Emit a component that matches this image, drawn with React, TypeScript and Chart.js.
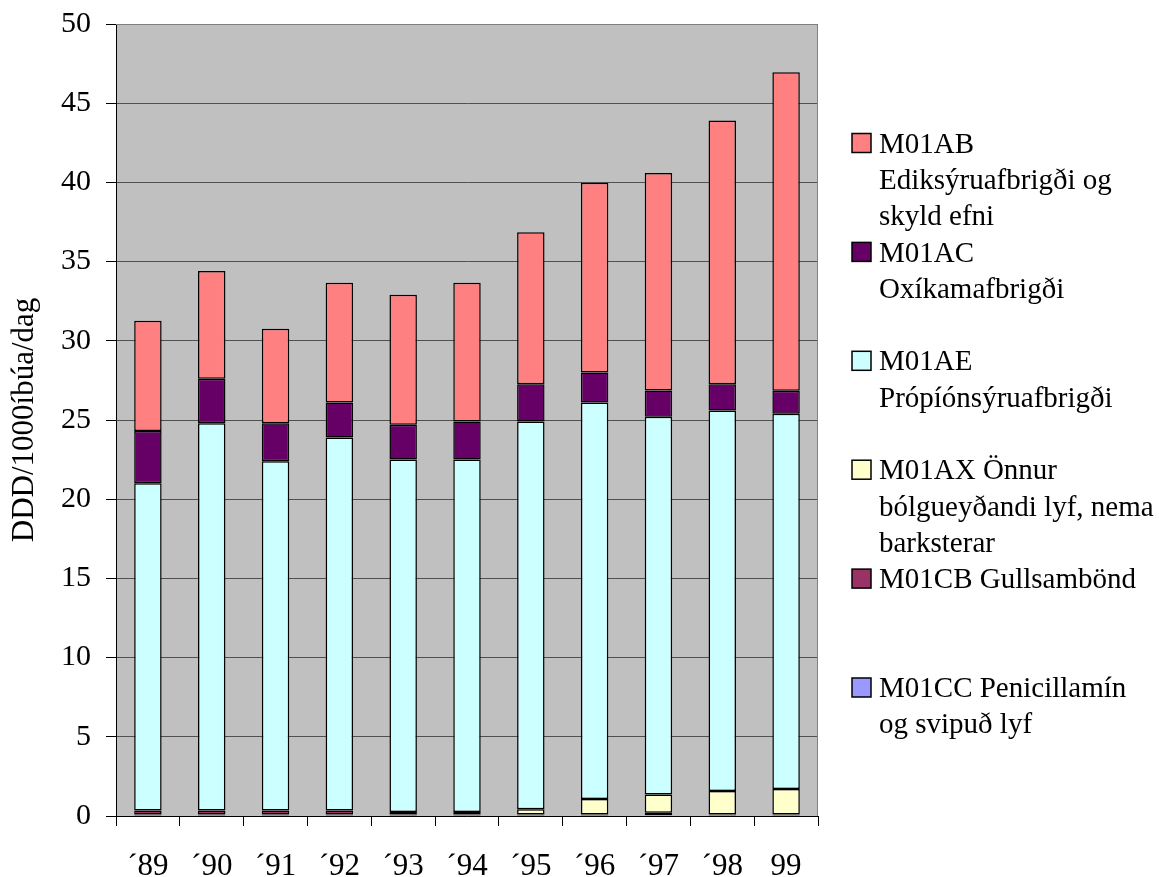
import { useEffect, useRef } from "react";
import { Chart, registerables } from "chart.js";

Chart.register(...registerables);

// ---- data ----
const years = ["´89", "´90", "´91", "´92", "´93", "´94", "´95", "´96", "´97", "´98", "99"];
const yTicks = [0, 5, 10, 15, 20, 25, 30, 35, 40, 45, 50];
const yTitle = "DDD/1000íbúa/dag";

// series listed bottom of the stack first
const seriesNames = [
  "M01CC Penicillamín\nog svipuð lyf",
  "M01CB Gullsambönd",
  "M01AX Önnur\nbólgueyðandi lyf, nema\nbarksterar",
  "M01AE\nPrópíónsýruafbrigði",
  "M01AC\nOxíkamafbrigði",
  "M01AB\nEdiksýruafbrigði og\nskyld efni",
];
const M01CC = [0.1, 0.1, 0.1, 0.1, 0.1, 0.1, 0.1, 0.1, 0.05, 0.1, 0.1];
const M01CB = [0.25, 0.25, 0.25, 0.25, 0.15, 0.15, 0, 0, 0.15, 0, 0];
const M01AX = [0, 0, 0, 0, 0, 0, 0.32, 0.97, 1.15, 1.48, 1.6];
const M01AE = [20.65, 24.45, 22.05, 23.55, 22.25, 22.25, 24.48, 25.03, 23.85, 24.02, 23.7];
const M01AC = [3.3, 2.8, 2.4, 2.2, 2.2, 2.4, 2.35, 1.9, 1.67, 1.65, 1.45];
const M01AB = [6.97, 6.8, 5.96, 7.57, 8.2, 8.77, 9.6, 11.98, 13.73, 16.65, 20.1];
const seriesValues = [M01CC, M01CB, M01AX, M01AE, M01AC, M01AB];

// ---- styles ----
const seriesColors = ["#9999FF", "#993366", "#FFFFCC", "#CCFFFF", "#660066", "#FF8080"];
const FONT = "'Liberation Serif', 'Times New Roman', Times, serif";

const plotBackground = {
  id: "plotBackground",
  beforeDraw(chart: any) {
    const { ctx, chartArea } = chart;
    ctx.save();
    ctx.fillStyle = "#FFFFFF";
    ctx.fillRect(0, 0, chart.width, chart.height);
    ctx.fillStyle = "#C0C0C0";
    ctx.fillRect(chartArea.left, chartArea.top, chartArea.right - chartArea.left, chartArea.bottom - chartArea.top);
    ctx.restore();
  },
  beforeDatasetsDraw(chart: any) {
    const { ctx, chartArea } = chart;
    ctx.save();
    ctx.strokeStyle = "#808080";
    ctx.lineWidth = 1;
    ctx.beginPath();
    ctx.moveTo(chartArea.left, chartArea.top + 0.5);
    ctx.lineTo(chartArea.right - 0.5, chartArea.top + 0.5);
    ctx.lineTo(chartArea.right - 0.5, chartArea.bottom);
    ctx.stroke();
    ctx.restore();
  },
};

const sideLegend = {
  id: "sideLegend",
  afterDraw(chart: any) {
    const { ctx } = chart;
    const boxX = 852;
    const boxSize = 19;
    const textX = 879;
    const firstLineY = 143;
    const lineH = 36.3;
    const slot = lineH * 3;
    ctx.save();
    ctx.font = `29px ${FONT}`;
    ctx.textBaseline = "middle";
    ctx.textAlign = "left";
    const n = chart.data.datasets.length;
    for (let k = 0; k < n; k++) {
      const ds = chart.data.datasets[n - 1 - k];
      const y0 = firstLineY + k * slot;
      ctx.fillStyle = ds.backgroundColor;
      ctx.fillRect(boxX, y0 - boxSize / 2, boxSize, boxSize);
      ctx.strokeStyle = "#000";
      ctx.lineWidth = 1.5;
      ctx.strokeRect(boxX, y0 - boxSize / 2, boxSize, boxSize);
      ctx.fillStyle = "#000";
      String(ds.label)
        .split("\n")
        .forEach((line: string, i: number) => {
          ctx.fillText(line, textX, y0 + i * lineH + 2);
        });
    }
    ctx.restore();
  },
};

export default function App() {
  const ref = useRef<HTMLCanvasElement | null>(null);

  useEffect(() => {
    if (!ref.current) return;
    const chart = new Chart(ref.current, {
      type: "bar",
      data: {
        labels: years,
        datasets: seriesValues.map((vals, i) => ({
          label: seriesNames[i],
          data: vals,
          backgroundColor: seriesColors[i],
          borderColor: "#000000",
          borderWidth: 1.5,
          borderSkipped: false,
          categoryPercentage: 1,
          barPercentage: 0.43,
        })),
      },
      options: {
        responsive: false,
        animation: false,
        devicePixelRatio: 1,
        layout: { padding: { top: 24, right: 341, left: 0, bottom: 0 } },
        plugins: {
          legend: { display: false },
          tooltip: { enabled: false },
          title: { display: false },
        },
        scales: {
          x: {
            stacked: true,
            offset: true,
            grid: {
              offset: true,
              drawOnChartArea: false,
              drawTicks: true,
              tickLength: 10,
              tickColor: "#000",
              tickWidth: 1,
            },
            border: { color: "#000", width: 1 },
            ticks: {
              color: "#000",
              font: { family: FONT, size: 31 },
              padding: 22,
              maxRotation: 0,
              autoSkip: false,
            },
            afterFit(scale: any) {
              scale.height = 61;
              scale.paddingLeft = 0;
              scale.paddingRight = 0;
            },
          },
          y: {
            stacked: true,
            min: 0,
            max: 50,
            afterBuildTicks(scale: any) {
              scale.ticks = yTicks.map((v) => ({ value: v }));
            },
            grid: {
              color: "#505050",
              lineWidth: 1,
              drawTicks: true,
              tickLength: 10,
              tickColor: "#000",
            },
            border: { color: "#000", width: 1 },
            ticks: {
              color: "#000",
              font: { family: FONT, size: 30 },
              padding: 15,
            },
            title: {
              display: true,
              text: yTitle,
              color: "#000",
              font: { family: FONT, size: 31 },
              padding: { top: 6, bottom: 0 },
            },
            afterFit(scale: any) {
              scale.width = 116;
              scale.paddingTop = 0;
              scale.paddingBottom = 0;
            },
          },
        },
      },
      plugins: [plotBackground, sideLegend],
    });
    return () => chart.destroy();
  }, []);

  return (
    <canvas
      ref={ref}
      width={1159}
      height={877}
      style={{ position: "fixed", left: 0, top: 0, display: "block", width: 1159, height: 877 }}
    />
  );
}
